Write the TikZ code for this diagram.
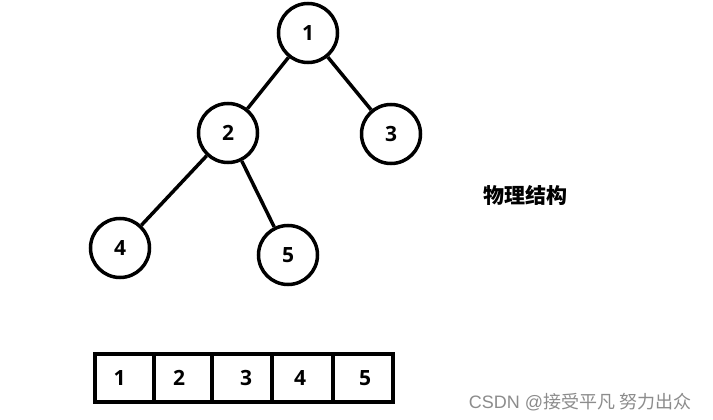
\documentclass[tikz,border=0pt]{standalone}
\usepackage{fontspec}
\setmainfont{Open Sans}
\newfontfamily\cjk{Noto Sans CJK SC}
\newfontfamily\wmlatin{Liberation Sans}
\begin{document}
\begin{tikzpicture}[x=1pt,y=-1pt,
  treenode/.style={circle,draw=black,line width=3.5pt,minimum size=59pt,inner sep=0pt,
    font=\fontsize{21}{23}\selectfont\bfseries},
  edge/.style={line width=3.5pt},
  cell/.style={rectangle,draw=black,line width=4.5pt,minimum height=48pt,inner sep=0pt,
    font=\fontsize{21}{23}\selectfont\bfseries}]
\useasboundingbox[fill=white] (0,0) rectangle (713,420);
\node[treenode] (n1) at (308,33) {1};
\node[treenode] (n2) at (228,133) {2};
\node[treenode] (n3) at (391,134) {3};
\node[treenode] (n4) at (120,248) {4};
\node[treenode] (n5) at (288,255) {5};
\draw[edge] (n1) -- (n2);
\draw[edge] (n1) -- (n3);
\draw[edge] (n2) -- (n4);
\draw[edge] (n2) -- (n5);
\node[cell,minimum width=59pt] (c1) at (124.5,378) {\hspace*{-10pt}1};
\node[cell,minimum width=58pt] (c2) at (183,378) {\hspace*{-8pt}2};
\node[cell,minimum width=60pt] (c3) at (242,378) {\hspace*{8pt}3};
\node[cell,minimum width=61pt] (c4) at (302.5,378) {\hspace*{-5pt}4};
\node[cell,minimum width=60pt] (c5) at (363,378) {\hspace*{4pt}5};
\node[font=\cjk\fontsize{21}{23}\selectfont\bfseries] (label) at (525,195) {物理结构};
\node[text=black!45,font=\cjk\fontsize{18}{20}\selectfont] (wm) at (580,402) {{\wmlatin CSDN @}接受平凡 努力出众};
\end{tikzpicture}
\end{document}
